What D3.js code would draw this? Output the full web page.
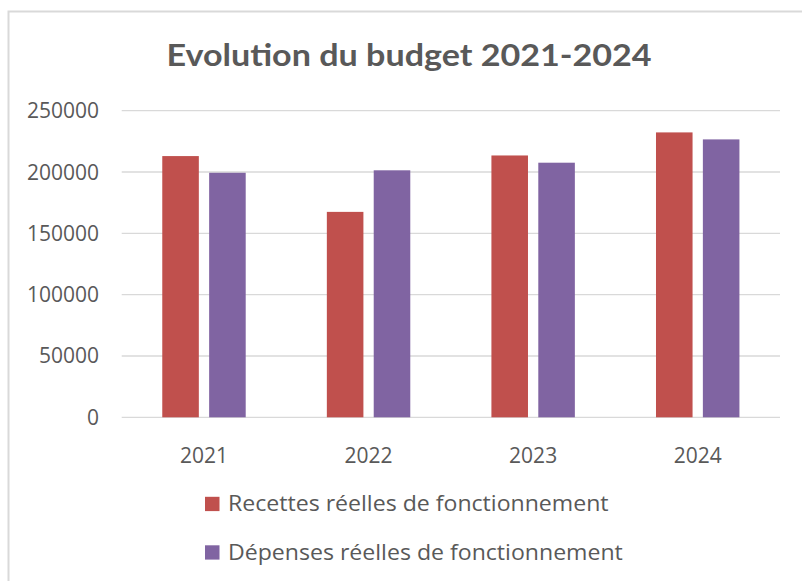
<!DOCTYPE html>
<html>
<head>
<meta charset="utf-8">
<script src="https://cdn.jsdelivr.net/npm/d3@7"></script>
<style>
  html, body { margin: 0; padding: 0; background: #fff; }
  svg { display: block; }
  text { font-family: "Open Sans", Lato, sans-serif; fill: #595959; }
</style>
</head>
<body>
<svg id="chart" width="802" height="581"></svg>
<script>
const title = "Evolution du budget 2021-2024";
const years = ["2021", "2022", "2023", "2024"];
const seriesNames = ["Recettes réelles de fonctionnement", "Dépenses réelles de fonctionnement"];
const recettes = [213000, 167500, 213500, 232300];
const depenses = [199400, 201400, 207600, 226600];
const yTicks = [0, 50000, 100000, 150000, 200000, 250000];
const colors = ["#C0504D", "#8064A2"];

const values = [recettes, depenses];
const svg = d3.select("#chart");

// chart border (only top and left visible)
svg.append("path")
  .attr("d", "M8.5,581 V11.5 H802")
  .attr("fill", "none")
  .attr("stroke", "#D9D9D9")
  .attr("stroke-width", 2);

const plotLeft = 121.7, plotRight = 780, plotTop = 110.7, plotBottom = 417.3;

const y = d3.scaleLinear().domain([0, 250000]).range([plotBottom, plotTop]);
const x0 = d3.scaleBand().domain(years).range([plotLeft, plotRight])
  .paddingInner(0.493).paddingOuter(0.2465);
const x1 = d3.scaleBand().domain(d3.range(seriesNames.length))
  .range([0, x0.bandwidth()]).paddingInner(0.22);

// gridlines
svg.append("g").selectAll("line").data(yTicks).join("line")
  .attr("x1", plotLeft).attr("x2", plotRight)
  .attr("y1", d => y(d)).attr("y2", d => y(d))
  .attr("stroke", "#D9D9D9").attr("stroke-width", 1.3);

// y labels
svg.append("g").selectAll("text").data(yTicks).join("text")
  .attr("x", 99).attr("y", d => y(d))
  .attr("dy", "0.357em")
  .attr("text-anchor", "end")
  .style("font-size", "21px")
  .text(d => d);

// bars
const groups = svg.append("g").selectAll("g").data(years).join("g")
  .attr("transform", d => `translate(${x0(d)},0)`);
groups.selectAll("rect")
  .data((d, i) => values.map((s, k) => ({ k, v: s[i] })))
  .join("rect")
  .attr("x", d => x1(d.k))
  .attr("width", x1.bandwidth())
  .attr("y", d => y(d.v))
  .attr("height", d => y(0) - y(d.v))
  .attr("fill", d => colors[d.k]);

// x labels
svg.append("g").selectAll("text").data(years).join("text")
  .attr("x", d => x0(d) + x0.bandwidth() / 2)
  .attr("y", 463)
  .attr("text-anchor", "middle")
  .style("font-size", "21px")
  .text(d => d);

// title
svg.append("text")
  .attr("transform", "translate(409,66) scale(1.1,1)")
  .attr("text-anchor", "middle")
  .style("font-family", "Lato, sans-serif")
  .style("font-size", "31px").style("font-weight", "bold")
  .text(title);

// legend
const leg = svg.append("g").selectAll("g").data(seriesNames).join("g")
  .attr("transform", (d, i) => `translate(205,${496.8 + i * 48.5})`);
leg.append("rect").attr("width", 14.5).attr("height", 14.3)
  .attr("fill", (d, i) => colors[i]);
leg.append("text")
  .attr("transform", "translate(23,14.3) scale(1.1,1)")
  .style("font-size", "21px")
  .text(d => d);
</script>
</body>
</html>
